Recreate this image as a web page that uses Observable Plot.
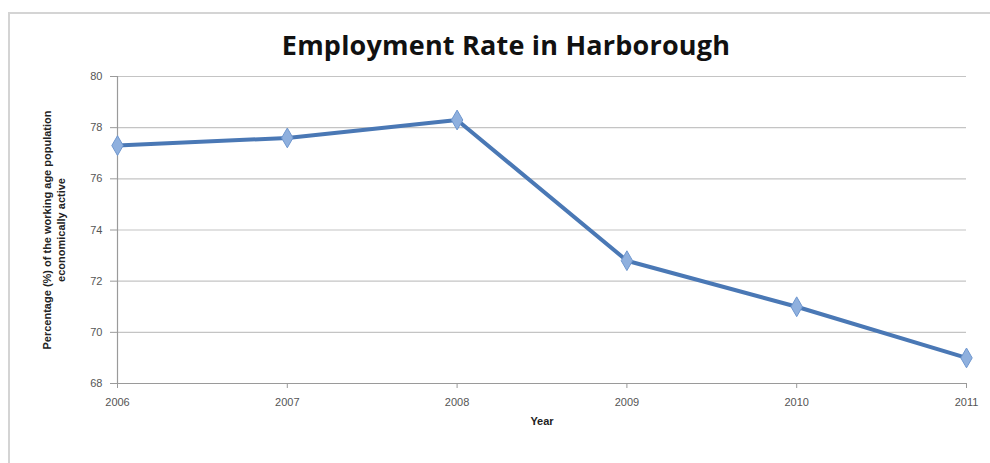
<!DOCTYPE html>
<html>
<head>
<meta charset="utf-8">
<script src="https://cdn.jsdelivr.net/npm/d3@7"></script>
<script src="https://cdn.jsdelivr.net/npm/@observablehq/plot@0.6"></script>
<style>
  html, body { margin: 0; padding: 0; background: #fff; }
  #wrap { position: relative; width: 990px; height: 463px; overflow: hidden; }
  #frame { position: absolute; left: 8px; top: 12px; width: 1000px; height: 470px;
           border-top: 2px solid #d4d4d4; border-left: 2px solid #d4d4d4; box-sizing: border-box; }
  #title { position: absolute; left: 0; top: 0; width: 1012px; height: 62px; text-align: center;
           font-family: "Open Sans", sans-serif; font-weight: 700; font-size: 27px; color: #111;
           line-height: 62px; padding-top: 14px; box-sizing: border-box; letter-spacing: 0.2px; }
  #chart { position: absolute; left: 0; top: 62px; }
</style>
</head>
<body>
<div id="wrap">
  <div id="frame"></div>
  <div id="title">Employment Rate in Harborough</div>
  <div id="chart"></div>
</div>
<script>
const years = [2006, 2007, 2008, 2009, 2010, 2011];
const rates = [77.3, 77.6, 78.3, 72.8, 71.0, 69.0];
const yTicks = [68, 70, 72, 74, 76, 78, 80];
const yLabel = "Percentage (%) of the working age population\neconomically active";
const xLabel = "Year";

const data = years.map((y, i) => ({year: y, rate: rates[i]}));

const chart = Plot.plot({
  width: 990,
  height: 401,
  marginLeft: 117,
  marginRight: 24,
  marginTop: 14,
  marginBottom: 80,
  style: {fontFamily: "Liberation Sans, Arial, sans-serif", fontSize: "11px", color: "#444", background: "transparent"},
  x: {domain: [years[0], years[years.length - 1]], label: null},
  y: {domain: [yTicks[0], yTicks[yTicks.length - 1]], label: null},
  marks: [
    Plot.gridY(yTicks, {stroke: "#c4c4c4", strokeOpacity: 1, strokeWidth: 1.2}),
    Plot.ruleX([years[0]], {stroke: "#9a9a9a", strokeWidth: 1.2}),
    Plot.ruleY([yTicks[0]], {stroke: "#9a9a9a", strokeWidth: 1.2}),
    Plot.axisY({ticks: yTicks, tickSize: 7, tickPadding: 8, stroke: "#9a9a9a", fill: "#555", label: null}),
    Plot.axisX({ticks: years, tickFormat: "d", tickSize: 5, tickPadding: 10, stroke: "#9a9a9a", fill: "#555", label: null}),
    Plot.lineY(data, {x: "year", y: "rate", stroke: "#4a78b5", strokeWidth: 4, strokeLinejoin: "round"}),
    Plot.dot(data, {x: "year", y: "rate", symbol: "diamond", r: 6, fill: "#8fb0de", stroke: "#6f97cf", strokeWidth: 1}),
    Plot.text([yLabel], {frameAnchor: "left", textAnchor: "middle", rotate: -90, dx: -64, text: d => d, fontSize: 11, fontWeight: "bold", fill: "#222", lineHeight: 1.3}),
    Plot.text([xLabel], {frameAnchor: "bottom", dy: 41, text: d => d, fontSize: 11, fontWeight: "bold", fill: "#222"})
  ]
});
document.getElementById("chart").appendChild(chart);
</script>
</body>
</html>
